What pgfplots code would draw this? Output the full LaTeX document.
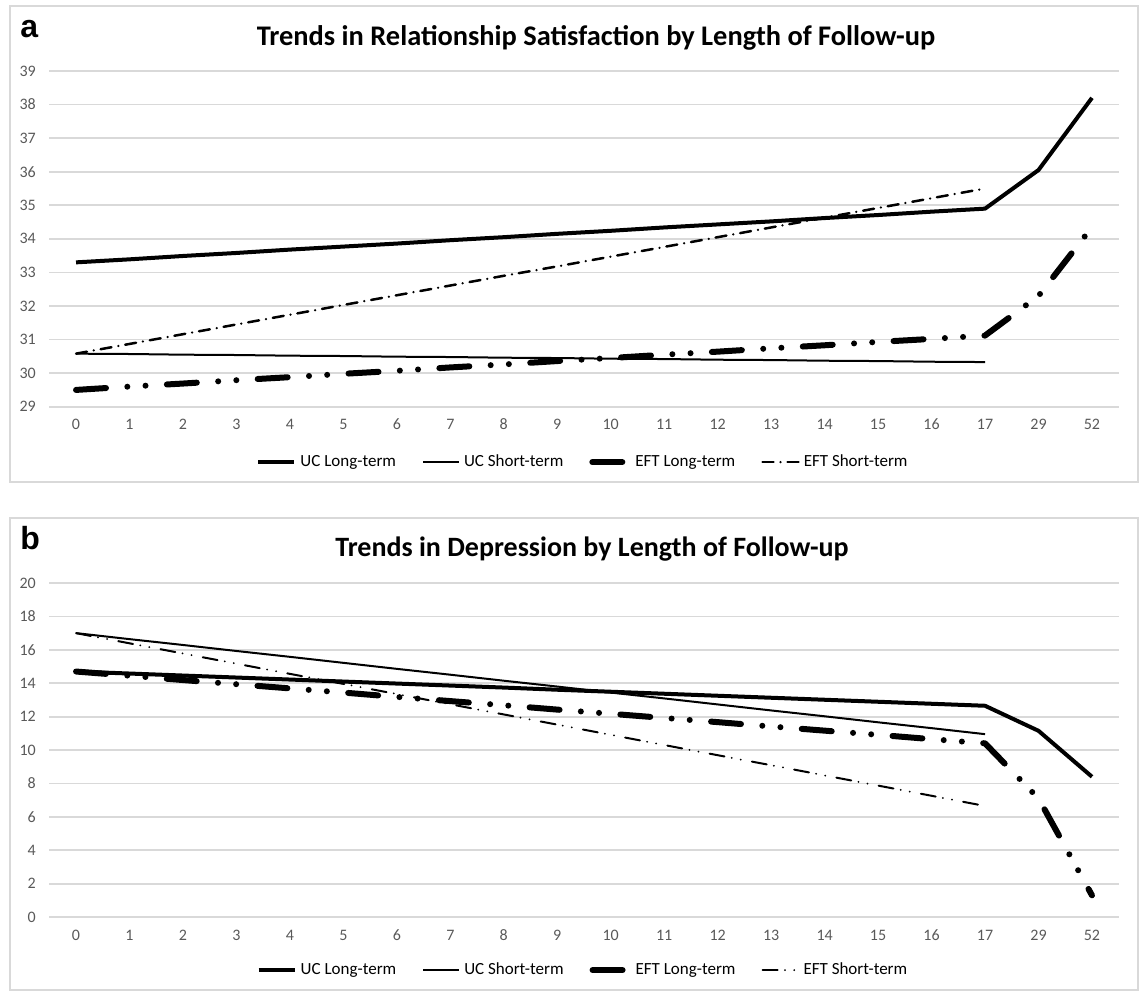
\documentclass[border=0pt]{standalone}
\usepackage{fontspec}
\setmainfont{Carlito}
\newfontfamily\arialf{Liberation Sans}
\usepackage{pgfplots}
\pgfplotsset{compat=1.18}
\definecolor{gridc}{HTML}{D9D9D9}
\definecolor{tickc}{HTML}{595959}
\pgfplotsset{
  legend image code/.code={\draw[#1] (0pt,0pt) -- (18pt,0pt);},
  mystyle/.style={
    scale only axis, width=534.7pt,
    xmin=-0.5, xmax=19.5,
    xtick={0,1,2,3,4,5,6,7,8,9,10,11,12,13,14,15,16,17,18,19},
    xticklabels={0,1,2,3,4,5,6,7,8,9,10,11,12,13,14,15,16,17,29,52},
    ymajorgrids, grid style={gridc, line width=0.9pt},
    axis line style={draw=none}, major tick length=0pt,
    tick label style={font=\fontsize{8}{9}\selectfont, text=tickc},
    xticklabel style={yshift=-2.5pt, text height=5.6pt, text depth=0pt},
    yticklabel style={xshift=-3.2pt},
    /pgf/number format/assume math mode=true,
    legend columns=4,
    legend style={draw=none, fill=none, font=\fontsize{8.5}{10}\selectfont,
      /tikz/every even column/.append style={column sep=11pt}},
    legend cell align=left,
    clip=false,
  },
  uclong/.style={black, line width=2pt, line join=round},
  ucshort/.style={black, line width=1pt, line join=round},
  eftlong/.style={black, line width=3pt, line cap=round, line join=round,
    dash pattern=on 15pt off 10.7pt on 0pt off 9.1pt on 0pt off 10.7pt},
  eftshorta/.style={black, line width=1.25pt, line cap=round,
    dash pattern=on 5.5pt off 3.5pt on 0pt off 3.5pt},
  eftshortb/.style={black, line width=1pt, line cap=round,
    dash pattern=on 7.5pt off 3.7pt on 0pt off 4.6pt on 0pt off 5.7pt},
}
\begin{document}
\begin{tikzpicture}
\useasboundingbox (0pt,0pt) rectangle (572pt,-496pt);
\draw[gridc, line width=1pt] (5pt,-3pt) rectangle (569pt,-241pt);
\draw[gridc, line width=1pt] (5pt,-259pt) rectangle (569pt,-495pt);
\node[anchor=base west, inner sep=0pt, font=\arialf\bfseries\fontsize{16}{18}\selectfont] at (10pt,-18.7pt) {a};
\node[anchor=base, inner sep=0pt, font=\bfseries\fontsize{14.2}{16}\selectfont] at (298pt,-22.5pt) {Trends in Relationship Satisfaction by Length of Follow-up};
\node[anchor=base west, inner sep=0pt, font=\arialf\bfseries\fontsize{16}{18}\selectfont] at (10pt,-274.5pt) {b};
\node[anchor=base, inner sep=0pt, font=\bfseries\fontsize{14}{16}\selectfont] at (296pt,-278.3pt) {Trends in Depression by Length of Follow-up};

\begin{axis}[mystyle, at={(24.65pt,-203.35pt)}, anchor=south west, height=167.85pt,
  ymin=29, ymax=39, ytick={29,30,31,32,33,34,35,36,37,38,39},
  legend style={at={(0.5,-0.165)}, anchor=center}]
\addplot[uclong] coordinates {(0,33.30) (1,33.39) (2,33.49) (3,33.58) (4,33.68) (5,33.77) (6,33.86) (7,33.96) (8,34.05) (9,34.15) (10,34.24) (11,34.34) (12,34.43) (13,34.52) (14,34.62) (15,34.71) (16,34.81) (17,34.90) (18,36.05) (19,38.20)};
\addlegendentry{UC Long-term}
\addplot[ucshort] coordinates {(0,30.58) (1,30.57) (2,30.55) (3,30.54) (4,30.52) (5,30.51) (6,30.49) (7,30.48) (8,30.46) (9,30.45) (10,30.43) (11,30.42) (12,30.40) (13,30.39) (14,30.37) (15,30.36) (16,30.34) (17,30.33)};
\addlegendentry{UC Short-term}
\addplot[eftlong] coordinates {(0,29.50) (1,29.60) (2,29.69) (3,29.79) (4,29.88) (5,29.98) (6,30.07) (7,30.17) (8,30.26) (9,30.36) (10,30.45) (11,30.55) (12,30.64) (13,30.74) (14,30.83) (15,30.93) (16,31.02) (17,31.12) (18,32.30) (19,34.35)};
\addlegendentry{EFT Long-term}
\addplot[eftshorta] coordinates {(0,30.58) (1,30.87) (2,31.16) (3,31.45) (4,31.74) (5,32.03) (6,32.32) (7,32.61) (8,32.90) (9,33.18) (10,33.47) (11,33.76) (12,34.05) (13,34.34) (14,34.63) (15,34.92) (16,35.21) (17,35.50)};
\addlegendentry{EFT Short-term}
\end{axis}

\begin{axis}[mystyle, at={(24.65pt,-458.5pt)}, anchor=south west, height=167pt,
  ymin=0, ymax=20, ytick={0,2,4,6,8,10,12,14,16,18,20},
  legend style={at={(0.5,-0.159)}, anchor=center}]
\addplot[uclong] coordinates {(0,14.70) (1,14.58) (2,14.46) (3,14.34) (4,14.22) (5,14.10) (6,13.98) (7,13.86) (8,13.74) (9,13.61) (10,13.49) (11,13.37) (12,13.25) (13,13.13) (14,13.01) (15,12.89) (16,12.77) (17,12.65) (18,11.15) (19,8.40)};
\addlegendentry{UC Long-term}
\addplot[ucshort] coordinates {(0,17.00) (1,16.64) (2,16.29) (3,15.93) (4,15.58) (5,15.22) (6,14.86) (7,14.51) (8,14.15) (9,13.80) (10,13.44) (11,13.09) (12,12.73) (13,12.37) (14,12.02) (15,11.66) (16,11.31) (17,10.95)};
\addlegendentry{UC Short-term}
\addplot[eftlong] coordinates {(0,14.70) (1,14.45) (2,14.19) (3,13.94) (4,13.69) (5,13.44) (6,13.18) (7,12.93) (8,12.68) (9,12.42) (10,12.17) (11,11.92) (12,11.67) (13,11.41) (14,11.16) (15,10.91) (16,10.65) (17,10.40) (18,7.10) (19,1.30)};
\addlegendentry{EFT Long-term}
\addplot[eftshortb] coordinates {(0,17.00) (1,16.39) (2,15.78) (3,15.17) (4,14.56) (5,13.96) (6,13.35) (7,12.74) (8,12.13) (9,11.52) (10,10.91) (11,10.30) (12,9.69) (13,9.09) (14,8.48) (15,7.87) (16,7.26) (17,6.65)};
\addlegendentry{EFT Short-term}
\end{axis}
\end{tikzpicture}
\end{document}
